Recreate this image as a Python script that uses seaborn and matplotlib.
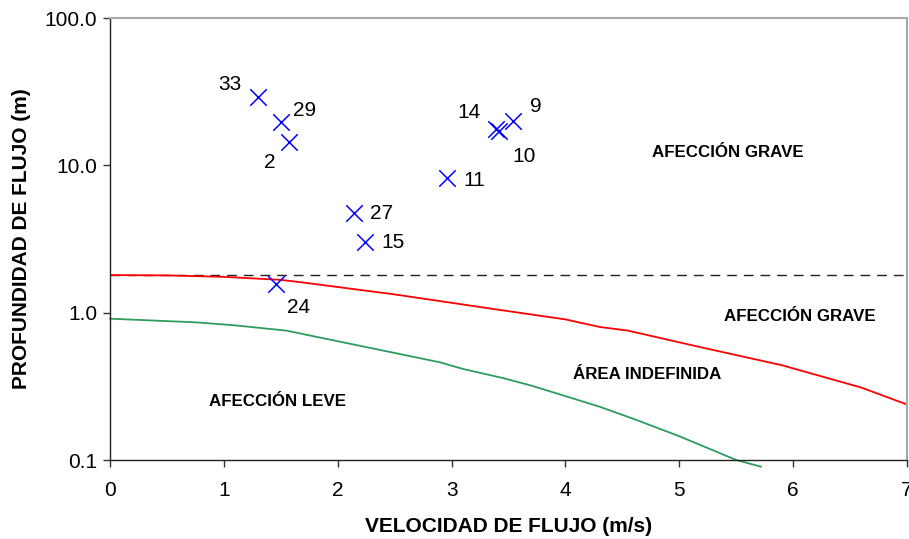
import matplotlib
matplotlib.use("Agg")
import matplotlib.pyplot as plt
import matplotlib.ticker as mticker
import seaborn as sns
import pandas as pd

# ---- data ----
point_ids = ["33", "29", "2", "14", "10", "9", "11", "27", "15", "24"]
point_vel = [1.30, 1.50, 1.57, 3.39, 3.42, 3.54, 2.96, 2.14, 2.24, 1.46]
point_depth = [29.0, 19.7, 14.4, 17.6, 17.0, 20.0, 8.2, 4.76, 3.03, 1.57]

red_vel = [0, 0.5, 1.0, 1.5, 1.7, 2.5, 3.4, 4.0, 4.3, 4.55, 5.2, 5.9, 6.6, 7.0]
red_depth = [1.8, 1.79, 1.75, 1.67, 1.60, 1.33, 1.05, 0.90, 0.80, 0.755, 0.58, 0.44, 0.31, 0.238]

green_vel = [0, 0.75, 1.1, 1.55, 2.0, 2.9, 3.1, 3.45, 3.7, 4.3, 4.6, 5.0, 5.5, 5.72]
green_depth = [0.91, 0.86, 0.82, 0.755, 0.64, 0.46, 0.415, 0.36, 0.32, 0.23, 0.19, 0.145, 0.10, 0.090]

dashed_depth = 1.8

region_labels = ["AFECCIÓN GRAVE", "AFECCIÓN GRAVE", "ÁREA INDEFINIDA", "AFECCIÓN LEVE"]
region_x = [5.43, 6.06, 4.72, 1.47]
region_y = [12.5, 0.97, 0.39, 0.257]

x_ticks = [0, 1, 2, 3, 4, 5, 6, 7]
y_ticks = [0.1, 1.0, 10.0, 100.0]

# label offsets (pixels) for point labels
label_offsets = {"33": (-28, 13), "29": (24, 11), "2": (-19, -20), "14": (-27, 17),
                 "9": (23, 14), "10": (25, -25), "11": (27, -2), "27": (28, -1),
                 "15": (28, -1), "24": (22, -24)}

sns.set_theme(style="white")
plt.rcParams['font.family'] = ['Liberation Sans', 'DejaVu Sans']
plt.rcParams['text.color'] = 'black'
plt.rcParams['axes.labelcolor'] = 'black'
plt.rcParams['xtick.color'] = 'black'
plt.rcParams['ytick.color'] = 'black'

W, H = 909, 539
fig = plt.figure(figsize=(W / 100, H / 100), dpi=100)
ax = fig.add_axes([110 / W, (H - 460) / H, (907 - 110) / W, (460 - 18) / H])

df_pts = pd.DataFrame({"vel": point_vel, "depth": point_depth, "id": point_ids})
df_red = pd.DataFrame({"vel": red_vel, "depth": red_depth})
df_green = pd.DataFrame({"vel": green_vel, "depth": green_depth})

ax.set_yscale("log")
ax.axhline(dashed_depth, color="#222222", lw=1.0, ls=(0, (7, 5)), zorder=1)
sns.lineplot(data=df_red, x="vel", y="depth", ax=ax, color="#ff0000", lw=1.3,
             sort=False, estimator=None, zorder=2)
sns.lineplot(data=df_green, x="vel", y="depth", ax=ax, color="#2e9c5e", lw=1.3,
             sort=False, estimator=None, zorder=2, clip_on=False)
sns.scatterplot(data=df_pts, x="vel", y="depth", ax=ax, marker="x", color="#0000ff",
                s=140, linewidth=1.1, zorder=3, clip_on=False)

for pid, xv, yv in zip(point_ids, point_vel, point_depth):
    dx, dy = label_offsets[pid]
    ax.annotate(pid, (xv, yv), xytext=(dx, dy), textcoords="offset pixels",
                ha="center", va="center", fontsize=15, color="black")

for t, xv, yv in zip(region_labels, region_x, region_y):
    ax.text(xv, yv, t, ha="center", va="center_baseline", fontsize=12.2,
            fontweight="bold", color="black")

ax.set_xlim(0, 7)
ax.set_ylim(0.1, 100)
ax.set_xticks(x_ticks)
ax.set_xticklabels([str(v) for v in x_ticks])
ax.yaxis.set_major_locator(mticker.FixedLocator(y_ticks))
ax.yaxis.set_minor_locator(mticker.NullLocator())
ax.yaxis.set_major_formatter(mticker.FuncFormatter(lambda v, p: f"{v:.1f}"))
ax.tick_params(axis="both", labelsize=15, direction="out", length=5, width=1,
               color="#333333", labelcolor="black", left=True, bottom=True)
ax.tick_params(axis="x", pad=10)
ax.tick_params(axis="y", pad=4)

for side in ["left", "bottom"]:
    ax.spines[side].set_color("#222222")
    ax.spines[side].set_linewidth(1.0)
for side in ["top", "right"]:
    ax.spines[side].set_color("#a8a8a8")
    ax.spines[side].set_linewidth(1.5)

ax.set_xlabel("VELOCIDAD DE FLUJO (m/s)", fontsize=15, fontweight="bold", labelpad=12)
ax.set_ylabel("PROFUNDIDAD DE FLUJO (m)", fontsize=15, fontweight="bold", labelpad=10)
ax.grid(False)

fig.savefig("out.png", dpi=100)
